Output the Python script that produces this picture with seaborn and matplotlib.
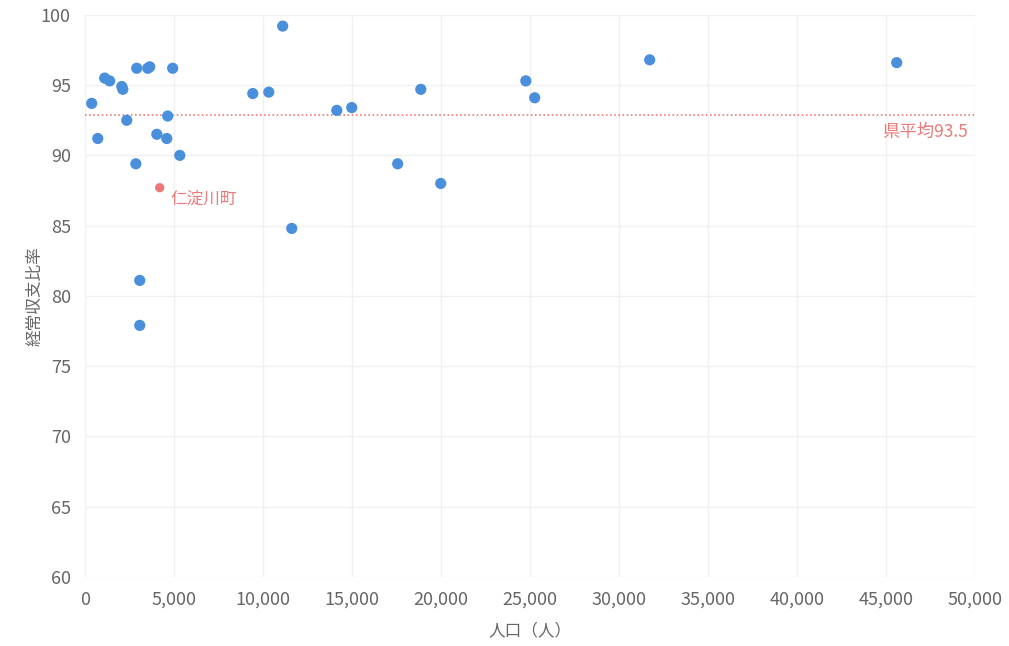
import pandas as pd
import matplotlib.pyplot as plt
import matplotlib.ticker as mticker
import seaborn as sns

# population vs. ordinary balance ratio
population = [390, 730, 1120, 1400, 2080, 2140, 2360, 2920, 2870, 3090, 3090,
              3540, 3650, 4050, 4610, 4660, 4940, 5340, 9440, 10340, 11120,
              11630, 14160, 15000, 17580, 18880, 20000, 24780, 25280, 31740, 45620]
ratio = [93.7, 91.2, 95.5, 95.3, 94.9, 94.7, 92.5, 96.2, 89.4, 81.1, 77.9,
         96.2, 96.3, 91.5, 91.2, 92.8, 96.2, 90.0, 94.4, 94.5, 99.2,
         84.8, 93.2, 93.4, 89.4, 94.7, 88.0, 95.3, 94.1, 96.8, 96.6]

target_name = '仁淀川町'
target_pop = 4210
target_ratio = 87.7

avg_value = 92.9
avg_label = '県平均93.5'

df = pd.DataFrame({'population': population, 'ratio': ratio})
df_target = pd.DataFrame({'population': [target_pop], 'ratio': [target_ratio]})

sns.set_style('whitegrid')
plt.rcParams['font.family'] = ['Noto Sans CJK JP', 'DejaVu Sans']

blue = '#4a8fdb'
red = '#ea7a78'

fig = plt.figure(figsize=(10.09, 6.46), dpi=100)
ax = fig.add_axes([0.084, 0.107, 0.882, 0.870])

sns.scatterplot(data=df, x='population', y='ratio', color=blue, s=65,
                edgecolor='none', ax=ax, zorder=3)
sns.scatterplot(data=df_target, x='population', y='ratio', color=red, s=45,
                edgecolor='none', ax=ax, zorder=3)
ax.annotate(target_name, (target_pop, target_ratio), xytext=(8, -8),
            textcoords='offset points', color=red, fontsize=12, va='center')

ax.axhline(avg_value, color=red, linestyle=(0, (1, 1.5)), linewidth=1.2, zorder=2)
ax.text(49600, avg_value - 0.6, avg_label, color=red, fontsize=12.5,
        ha='right', va='top')

ax.set_xlim(0, 50000)
ax.set_ylim(60, 100)
ax.set_xticks(range(0, 50001, 5000))
ax.set_yticks(range(60, 101, 5))
ax.xaxis.set_major_formatter(mticker.StrMethodFormatter('{x:,.0f}'))
ax.grid(color='#f0f0f0', linewidth=1)
for s in ax.spines.values():
    s.set_visible(False)
ax.tick_params(colors='#666666', labelsize=13, length=0, pad=10)
ax.set_xlabel('人口（人）', color='#666666', fontsize=12, labelpad=10)
ax.set_ylabel('経常収支比率', color='#666666', fontsize=12, labelpad=-2)

fig.savefig('out.png', dpi=100)
